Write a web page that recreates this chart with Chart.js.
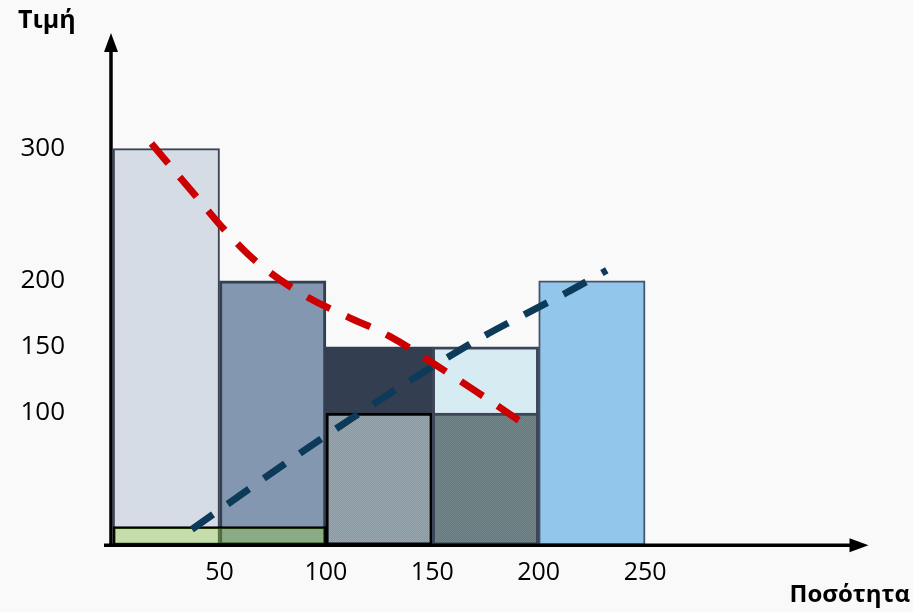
<!DOCTYPE html>
<html>
<head>
<meta charset="utf-8">
<script src="https://cdn.jsdelivr.net/npm/chart.js@4"></script>
<style>
  html, body { margin: 0; padding: 0; background: #f9f9f9; }
  #wrap { width: 913px; height: 612px; }
</style>
</head>
<body>
<div id="wrap"><canvas id="myChart"></canvas></div>
<script>
// bins of quantity (Ποσότητα) and heights (Τιμή)
const binEdges = [0, 50, 100, 150, 200, 250];
const binCenters = [25, 75, 125, 175, 225];
const barTops = [300, 200, 150, 150, 200];
const innerBins = [125, 175];
const innerTops = [100, 100];
const baseBarX = 50, baseBarY = 14, baseBarWidth = 100;
// dashed curves
const redX = [18, 40, 55, 70, 90, 110, 130, 150, 170, 192];
const redY = [304, 262, 234, 211, 189, 173, 158, 138, 117, 93];
const blueX = [37, 90, 137, 174, 213, 232];
const blueY = [12, 72, 122, 158, 191, 208];
const xTicks = [50, 100, 150, 200, 250];
const yTicks = [100, 150, 200, 300];

Chart.defaults.font.family = "'Open Sans', 'Noto Sans', sans-serif";
Chart.defaults.color = '#000';

const ctx = document.getElementById('myChart');
const g = ctx.getContext('2d');

function dots(a, b) {
    const c = document.createElement('canvas');
    c.width = 2; c.height = 2;
    const p = c.getContext('2d');
    p.fillStyle = a; p.fillRect(0, 0, 2, 2);
    p.fillStyle = b; p.fillRect(0, 0, 1, 1); p.fillRect(1, 1, 1, 1);
    return g.createPattern(c, 'repeat');
}

const arrows = {
    id: 'arrows',
    afterDatasetsDraw(chart) {
        const { ctx, chartArea: a, scales: { x, y } } = chart;
        const x0 = a.left, y0 = y.getPixelForValue(0);
        const xEnd = x.getPixelForValue(355), yEnd = a.top - 6;
        ctx.save();
        ctx.strokeStyle = '#000';
        ctx.fillStyle = '#000';
        ctx.lineWidth = 3.5;
        ctx.beginPath();
        ctx.moveTo(x0 - 7, y0); ctx.lineTo(xEnd - 14, y0);
        ctx.moveTo(x0, y0 + 1); ctx.lineTo(x0, yEnd + 14);
        ctx.stroke();
        ctx.beginPath();
        ctx.moveTo(xEnd, y0); ctx.lineTo(xEnd - 19, y0 - 7); ctx.lineTo(xEnd - 19, y0 + 7); ctx.closePath();
        ctx.moveTo(x0, yEnd); ctx.lineTo(x0 - 7, yEnd + 19); ctx.lineTo(x0 + 7, yEnd + 19); ctx.closePath();
        ctx.fill();
        ctx.restore();
    }
};

const chart = new Chart(ctx, {
    type: 'bar',
    data: {
        datasets: [
        {
            type: 'line',
            data: redX.map((v, i) => ({ x: v, y: redY[i] })),
            borderColor: '#cc0000',
            borderWidth: 7,
            borderDash: [26, 18],
            borderCapStyle: 'butt',
            tension: 0.4,
            pointRadius: 0,
            fill: false,
            order: 1
        },
        {
            type: 'line',
            data: blueX.map((v, i) => ({ x: v, y: blueY[i] })),
            borderColor: '#0e3a5a',
            borderWidth: 7,
            borderDash: [26, 18],
            borderCapStyle: 'butt',
            tension: 0.3,
            pointRadius: 0,
            fill: false,
            order: 2
        },
        {
            data: [{ x: baseBarX, y: baseBarY }],
            backgroundColor: 'rgba(150, 225, 20, 0.28)',
            borderColor: '#000',
            borderWidth: 2,
            borderSkipped: false,
            grouped: false,
            order: 3
        },
        {
            data: innerBins.map((v, i) => ({ x: v, y: innerTops[i] })),
            backgroundColor: [dots('#8796a2', '#9aa8b2'), dots('#677b7e', '#72868a')],
            borderColor: ['#000', '#3c4658'],
            borderWidth: [3, 3],
            borderSkipped: false,
            grouped: false,
            order: 4
        },
        {
            data: binCenters.map((v, i) => ({ x: v, y: barTops[i] })),
            backgroundColor: ['#d6dce5', '#8497b0', '#333f50', '#d6ecf2', '#93c6eb'],
            borderColor: ['#3b4455', '#333f50', '#333f50', '#3c4658', '#44546a'],
            borderWidth: [2, 3, 2, 3, 2],
            borderSkipped: false,
            grouped: false,
            order: 5
        }]
    },
    options: {
        responsive: true,
        maintainAspectRatio: false,
        animation: false,
        layout: { autoPadding: false, padding: { left: 18, right: 3, top: 6, bottom: 2 } },
        plugins: {
            legend: { display: false },
            tooltip: { enabled: false },
            title: {
                display: true,
                text: 'Τιμή',
                align: 'start',
                color: '#000',
                font: { size: 25, weight: 'bold' },
                padding: { top: 0, bottom: 3 }
            }
        },
        scales: {
            x: {
                type: 'linear',
                min: -1,
                max: 374.5,
                offset: false,
                grid: { display: false },
                border: { display: false },
                afterBuildTicks: s => { s.ticks = xTicks.map(v => ({ value: v })); },
                ticks: { font: { size: 25 }, padding: 5, maxRotation: 0, autoSkip: false },
                title: {
                    display: true,
                    text: 'Ποσότητα',
                    align: 'end',
                    font: { size: 24, weight: 'bold' },
                    padding: { top: -12, bottom: 0 }
                }
            },
            y: {
                min: 0,
                max: 383,
                grid: { display: false, tickLength: 38 },
                border: { display: false },
                afterBuildTicks: s => { s.ticks = yTicks.map(v => ({ value: v })); },
                afterFit: s => { s.width = 93; },
                ticks: { font: { size: 26 }, padding: 8 }
            }
        }
    },
    plugins: [arrows]
});

// each bar is one bin wide on the quantity axis
const xs = chart.scales.x;
const binPx = xs.getPixelForValue(binEdges[1]) - xs.getPixelForValue(binEdges[0]);
chart.data.datasets[2].barThickness = xs.getPixelForValue(baseBarWidth) - xs.getPixelForValue(0);
chart.data.datasets[3].barThickness = binPx;
chart.data.datasets[4].barThickness = binPx;
chart.update();
</script>
</body>
</html>
